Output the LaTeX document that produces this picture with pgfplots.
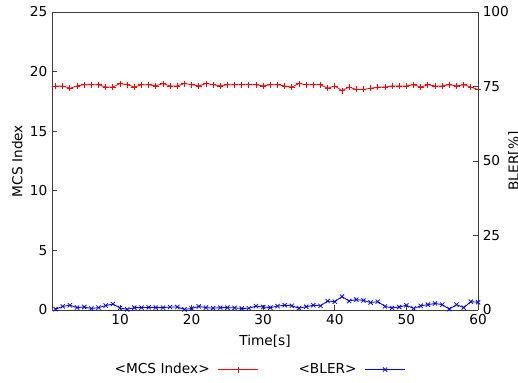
\documentclass[border=0pt]{standalone}
\usepackage{fontspec}
\setmainfont{DejaVu Sans}
\usepackage{pgfplots}
\pgfplotsset{compat=1.18}
\usepackage{pgfplotstable}
\pgfplotstableread{
x mcs bler
1 18.8 0.3
2 18.8 1.2
3 18.6 1.6
4 18.8 0.8
5 18.9 1.0
6 18.9 0.5
7 18.9 0.8
8 18.7 1.5
9 18.7 2.0
10 19.0 0.7
11 18.9 0.2
12 18.7 0.8
13 18.9 0.8
14 18.9 0.9
15 18.8 0.8
16 19.0 0.8
17 18.8 1.0
18 18.8 1.0
19 19.0 0.2
20 18.9 0.5
21 18.8 1.2
22 19.0 0.8
23 18.9 0.6
24 18.8 0.8
25 18.9 0.8
26 18.9 0.7
27 18.9 0.5
28 18.9 0.6
29 18.9 1.3
30 18.8 1.0
31 18.9 0.8
32 18.9 1.3
33 18.8 1.6
34 18.7 1.4
35 19.0 0.6
36 18.9 1.1
37 18.9 1.6
38 18.9 1.4
39 18.6 3.0
40 18.8 2.8
41 18.4 4.5
42 18.7 3.0
43 18.5 3.5
44 18.5 3.2
45 18.6 2.5
46 18.7 2.8
47 18.7 1.2
48 18.8 0.7
49 18.8 1.0
50 18.8 1.6
51 18.9 0.5
52 18.7 1.4
53 18.9 1.8
54 18.8 2.2
55 18.8 1.8
56 18.9 0.3
57 18.8 1.8
58 18.9 0.8
59 18.7 2.8
60 18.5 2.6
}\datatable
\definecolor{axgray}{RGB}{60,60,60}
\begin{document}
\fontsize{13.7bp}{16bp}\selectfont
\begin{tikzpicture}
\pgfplotsset{
  every axis/.append style={
    scale only axis, width=426bp, height=298bp,
    xmin=0.5, xmax=60,
    tick align=inside, major tick length=5bp,
    axis line style={axgray, line width=0.9bp},
    every tick/.style={axgray, line width=0.8bp},
    ticklabel style={/pgf/number format/assume math mode=true, font=\fontsize{13.7bp}{16bp}\selectfont},
    label style={font=\fontsize{13.7bp}{16bp}\selectfont},
  },
}
\begin{axis}[
  at={(0,0)}, anchor=south west,
  ymin=0, ymax=25,
  ytick={0,5,10,15,20,25},
  xtick={10,20,30,40,50,60},
  xtick pos=bottom, ytick pos=left,
  axis y line*=left,
  axis x line*=box,
  xlabel={Time[s]},
  ylabel={MCS Index},
  xlabel style={yshift=-1bp},
  ylabel style={yshift=-2bp},
  legend plot pos=right,
  legend columns=2,
  legend style={draw=none, fill=none, at={(0.486,-0.2)}, anchor=center,
    font=\fontsize{13.7bp}{16bp}\selectfont,
    /tikz/every odd column/.append style={column sep=6bp},
    /tikz/every even column/.append style={column sep=38bp}},
  legend image code/.code={\draw[mark repeat=2,mark phase=2,#1] plot coordinates {(0bp,0bp) (20bp,0bp) (40bp,0bp)};},
]
\addplot[red, line width=0.8bp, mark=+, mark size=3bp, mark options={line width=0.8bp}] table[x=x, y=mcs] {\datatable};
\addlegendentry{<MCS Index>}
\addlegendimage{blue, line width=0.8bp, mark=x, mark size=3bp, mark options={line width=0.8bp}}
\addlegendentry{<BLER>}
\end{axis}
\begin{axis}[
  at={(0,0)}, anchor=south west,
  ymin=0, ymax=100,
  ytick={0,25,50,75,100},
  axis y line*=right,
  axis x line=none,
  ytick pos=right,
]
\addplot[blue, line width=0.8bp, mark=x, mark size=3bp, mark options={line width=0.8bp}] table[x=x, y=bler] {\datatable};
\end{axis}
\node[rotate=90, anchor=north, inner sep=0pt, font=\fontsize{13.7bp}{16bp}\selectfont] at (456bp,149bp) {BLER[\%]};
\pgfresetboundingbox
\useasboundingbox (-52bp,-73bp) rectangle (466bp,310bp);
\end{tikzpicture}
\end{document}
